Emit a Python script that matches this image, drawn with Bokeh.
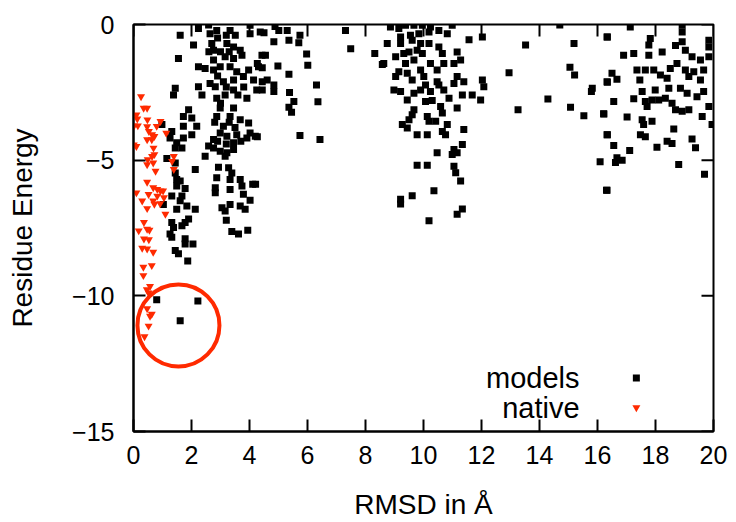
from bokeh.plotting import figure
from bokeh.models import FixedTicker, Label
from bokeh.embed import file_html
from bokeh.resources import INLINE

# ---------------- data ----------------
models_x = [
    1.61, 2.07, 2.24, 2.59, 2.64, 2.87, 3.33, 3.51, 4.02, 4.02, 4.37, 2.70, 2.76, 3.22, 3.45, 3.68,
    1.55, 2.24, 2.47, 2.76, 2.76, 3.16, 3.45, 3.74, 4.43, 2.99, 3.33, 3.56, 3.97, 4.31, 1.44, 1.38,
    2.24, 2.36, 2.64, 2.82, 3.10, 3.45, 3.79, 2.87, 3.16, 3.45, 3.91, 4.25, 4.14, 1.90, 1.72, 2.01,
    2.18, 1.72, 2.99, 2.87, 3.45, 3.33, 3.68, 3.97, 4.02, 3.10, 2.99, 3.22, 3.56, 1.32, 1.26, 1.49,
    1.72, 2.01, 2.76, 2.59, 3.45, 3.91, 4.20, 0.98,
    2.90, 3.00, 3.30, 2.90, 3.20, 3.00, 3.30, 3.50, 2.80, 3.70, 3.20, 2.90, 3.60, 3.80, 3.20, 2.60,
    1.44, 1.67, 1.15, 1.44, 1.44, 1.49, 1.49, 1.61, 1.78, 1.32, 1.67, 1.61, 1.03, 1.49, 1.84, 2.13,
    1.32, 1.38, 1.67, 1.78, 1.90, 1.26, 1.32, 1.78, 1.78, 2.05, 1.44, 1.55, 1.87, 0.80, 2.22, 1.61,
    2.76, 2.99, 3.22, 3.45, 3.16, 2.47, 2.13, 2.93, 3.28, 3.39, 2.87, 3.33, 3.68, 3.74, 2.82, 2.82,
    3.33, 4.11, 3.79, 4.02, 3.33, 3.05, 3.16, 3.68, 3.85, 3.20, 3.39, 3.62, 3.94,
    4.50, 4.88, 5.01, 5.30, 5.74, 4.84, 5.36, 5.70, 7.31, 7.49, 8.32, 8.58, 4.55, 5.97, 4.27, 4.44,
    4.98, 6.01, 5.36, 4.44, 4.61, 4.84, 4.44, 4.84, 6.31, 5.38, 5.53, 5.36, 5.45, 6.36, 4.27, 5.74,
    6.43, 4.21,
    8.86, 9.15, 9.38, 9.67, 9.96, 10.24, 10.53, 10.99, 10.82, 9.21, 9.55, 9.84, 10.19, 8.75, 9.21, 9.61,
    9.90, 10.19, 11.57, 12.03, 10.53, 10.65, 11.16, 11.28, 11.05, 8.63, 9.04, 9.32, 9.50, 9.78, 9.96, 9.67,
    9.38, 9.15, 9.04, 9.44, 9.61, 9.90, 10.01, 10.24, 10.47, 10.47, 10.70, 11.16, 11.05, 11.39, 12.03, 12.08,
    8.98, 9.21, 9.44, 9.67, 9.90, 10.07, 10.24, 10.53, 10.70, 10.88, 11.34, 11.68, 11.97, 10.07, 10.30, 10.59,
    10.65, 11.16, 9.67, 9.50, 9.61, 9.27, 9.44, 10.13, 10.19, 10.42, 10.82, 10.65, 10.76, 11.39, 9.78, 10.13,
    11.34, 10.47, 11.05, 10.99, 11.16, 9.78, 10.13, 11.05, 11.11, 11.28, 10.36, 9.61, 9.21, 9.21, 11.34, 11.16,
    10.19,
    14.70, 13.52, 15.19, 16.34, 12.95, 15.05, 15.21, 16.34, 15.82, 15.79, 14.29, 13.26, 15.07, 15.53, 16.22, 16.34,
    16.09, 16.31,
    17.13, 16.33, 17.82, 17.77, 18.92, 18.92, 19.84, 19.84, 18.69, 18.92, 19.03, 19.26, 19.55, 19.84, 16.90, 17.25,
    17.77, 18.23, 18.74, 16.50, 16.33, 16.67, 17.36, 17.65, 17.94, 18.17, 18.40, 18.51, 19.03, 19.32, 19.66, 19.55,
    19.15, 17.46, 17.54, 17.99, 18.46, 18.86, 19.09, 19.66, 19.43, 17.25, 16.56, 17.65, 17.88, 18.11, 18.34, 18.57,
    17.71, 18.69, 18.92, 19.15, 19.84, 19.61, 19.95, 16.21, 17.02, 17.54, 17.59, 17.88, 18.63, 16.33, 17.48, 17.65,
    18.40, 18.57, 19.26, 16.56, 17.11, 18.05, 19.38, 16.67, 16.85, 16.62, 18.80, 19.69, 16.33,
]
models_y = [
    -0.40, -0.76, -0.15, -0.02, -0.34, -0.22, -0.22, -0.40, -0.03, -0.34, -0.28, -0.70, -0.95, -0.70, -0.83, -0.95,
    -1.25, -1.56, -1.62, -1.31, -1.68, -1.19, -1.25, -1.13, -1.13, -1.56, -1.56, -1.74, -1.68, -1.56, -2.35, -2.60,
    -2.29, -2.60, -2.17, -2.29, -2.11, -2.05, -1.92, -2.72, -2.60, -2.41, -2.72, -2.41, -2.05, -3.14, -3.39, -3.45,
    -3.75, -3.75, -3.08, -3.39, -3.08, -3.39, -3.51, -3.63, -4.00, -3.75, -4.00, -4.12, -4.06, -3.94, -4.18, -4.36,
    -4.18, -4.06, -4.24, -4.48, -4.36, -4.18, -4.12, -3.69,
    -0.50, -1.00, -1.00, -1.90, -2.30, -2.90, -3.60, -3.80, -3.60, -4.30, -4.40, -4.30, -2.60, -2.30, -0.40, -1.00,
    -4.55, -4.55, -4.94, -5.10, -5.47, -5.71, -5.95, -5.77, -6.04, -6.32, -6.32, -6.50, -6.63, -6.81, -6.69, -6.81,
    -7.30, -7.48, -7.42, -7.30, -7.17, -7.72, -7.84, -7.90, -8.09, -8.09, -8.33, -8.45, -8.72, -10.14, -10.19, -10.92,
    -4.55, -4.67, -4.73, -4.61, -4.86, -4.86, -5.34, -5.26, -5.28, -5.47, -5.65, -5.71, -5.71, -5.95, -6.02, -6.20,
    -6.08, -5.89, -6.26, -6.48, -6.63, -6.75, -6.87, -6.69, -6.81, -7.21, -7.63, -7.72, -7.58,
    -0.30, -0.07, -0.22, -0.22, -0.40, -0.64, -0.58, -0.67, -0.22, -0.89, -1.07, -1.47, -1.13, -1.09, -1.44, -1.59,
    -1.53, -1.50, -1.83, -2.11, -2.05, -2.23, -2.41, -2.47, -2.23, -2.51, -2.84, -3.05, -3.23, -2.85, -4.14, -4.09,
    -4.24, -5.89,
    -0.09, -0.15, -0.03, -0.03, -0.03, -0.09, -0.22, -0.03, -0.34, -0.46, -0.40, -0.34, -0.28, -0.70, -0.70, -0.58,
    -0.70, -0.70, -0.56, -0.46, -0.83, -1.07, -1.01, -1.31, -1.44, -1.44, -1.19, -1.07, -1.01, -0.95, -1.07, -1.31,
    -1.44, -1.74, -1.92, -1.80, -2.05, -1.68, -1.92, -1.44, -1.68, -2.11, -1.44, -1.92, -2.17, -2.11, -2.05, -2.29,
    -2.41, -2.47, -2.78, -2.53, -2.41, -2.23, -2.47, -2.23, -2.41, -2.72, -2.60, -2.60, -2.78, -2.84, -2.80, -3.02,
    -3.26, -3.08, -3.14, -3.51, -3.33, -3.69, -3.81, -3.39, -3.57, -3.57, -3.69, -3.94, -4.06, -3.87, -4.06, -4.06,
    -4.42, -4.73, -4.61, -4.79, -4.73, -5.19, -5.19, -5.22, -5.46, -5.77, -6.13, -6.31, -6.44, -6.62, -6.80, -6.99,
    -7.23,
    -0.02, -0.76, -0.70, -0.46, -1.78, -1.58, -1.86, -2.13, -2.35, -2.47, -2.75, -3.14, -3.05, -3.36, -3.30, -4.06,
    -5.06, -6.11,
    -0.09, -0.46, -0.52, -0.76, -0.03, -0.28, -0.58, -0.83, -0.77, -0.64, -0.95, -1.19, -1.31, -1.19, -1.13, -1.07,
    -1.13, -1.01, -1.44, -1.80, -2.11, -2.02, -1.68, -1.68, -1.68, -1.86, -1.98, -1.62, -1.68, -1.74, -1.68, -2.05,
    -1.92, -2.05, -2.47, -2.41, -2.35, -2.35, -2.53, -2.47, -2.66, -2.74, -2.84, -2.84, -2.78, -2.78, -2.72, -2.90,
    -3.02, -3.14, -3.20, -3.14, -3.02, -3.39, -3.69, -3.29, -3.41, -3.51, -3.69, -3.57, -3.85, -4.06, -4.06, -4.14,
    -4.30, -4.39, -4.22, -4.46, -4.64, -4.52, -4.54, -4.91, -5.00, -5.09, -5.16, -5.52, -6.11,
]

native_x = [
    0.26, 0.35, 0.47, 0.10, 0.13, 0.02, 0.15, 0.47, 0.53, 0.64, 0.47, 0.72, 0.93, 1.13, 0.01, 0.10,
    0.49, 0.64, 0.72, 0.68, 0.47, 0.76, 1.39, 1.33, 1.39, 0.47, 0.68, 0.82, 0.93, 1.02, 0.82, 1.05,
    0.68, 0.10, 0.30, 0.47, 0.72, 1.10, 0.36, 0.47, 0.18, 0.36, 0.53, 0.30, 0.47, 0.68,
    0.48, 0.80, 0.63, 0.69, 0.52, 0.92, 0.55,
    0.34, 0.63, 0.34, 0.57, 0.46, 0.52, 0.63, 0.57, 0.52, 0.47, 0.38,
]
native_y = [
    -2.66, -3.08, -3.08, -3.33, -3.48, -3.73, -3.73, -3.76, -3.94, -4.06, -4.24, -4.12, -3.57, -4.00, -4.43, -4.49,
    -4.98, -4.86, -4.79, -5.10, -5.16, -5.40, -4.86, -5.04, -5.34, -5.81, -6.01, -6.07, -6.13, -6.13, -6.32, -6.38,
    -6.50, -6.20, -6.50, -6.78, -6.62, -6.99, -7.29, -7.54, -7.60, -7.90, -7.93, -8.24, -8.27, -8.39,
    -3.51, -3.75, -4.24, -4.55, -6.26, -6.60, -7.58,
    -8.94, -8.88, -9.25, -9.65, -9.77, -9.89, -10.67, -10.75, -11.11, -10.47, -11.50,
]

highlight_x = [1.55]
highlight_y = [-11.09]

x_ticks = [0, 2, 4, 6, 8, 10, 12, 14, 16, 18, 20]
y_ticks = [0, -5, -10, -15]
y_tick_labels = {0: "0", -5: "\u22125", -10: "\u221210", -15: "\u221215"}

legend_names = ["models", "native"]
legend_text_x = 15.38
legend_mark_x = 17.34
legend_y = [-13.03, -14.12]

x_title = "RMSD in Å"
y_title = "Residue Energy"

X_MIN, X_MAX = 0, 20
Y_MIN, Y_MAX = -15, 0

RED = "#ff2a00"
FONT = "Liberation Sans"

# ---------------- figure ----------------
W, H = 730, 522
FRAME_W, FRAME_H = 580, 410
LEFT, TOP = 133, 24
p = figure(width=W, height=H, x_range=(X_MIN, X_MAX), y_range=(Y_MIN, Y_MAX),
           output_backend="svg", toolbar_location=None, title_location=None,
           min_border_left=LEFT, min_border_right=W - LEFT - FRAME_W,
           min_border_top=TOP, min_border_bottom=H - TOP - FRAME_H)
p.grid.visible = False
p.outline_line_color = "black"
p.outline_line_width = 2
p.background_fill_color = "white"
p.border_fill_color = "white"

for ax in (p.xaxis[0], p.yaxis[0]):
    ax.axis_line_width = 2
    ax.major_tick_line_width = 2
    ax.major_tick_in = 12
    ax.major_tick_out = 0
    ax.minor_tick_line_color = None
    ax.major_label_text_font = FONT
    ax.major_label_text_font_size = "25px"
    ax.major_label_text_color = "black"
    ax.axis_label_text_font = FONT
    ax.axis_label_text_font_size = "28px"
    ax.axis_label_text_font_style = "normal"
    ax.axis_label_text_color = "black"

p.xaxis[0].ticker = FixedTicker(ticks=x_ticks)
p.yaxis[0].ticker = FixedTicker(ticks=y_ticks)
p.yaxis[0].major_label_overrides = y_tick_labels
p.xaxis[0].axis_label = x_title
p.yaxis[0].axis_label = y_title
p.xaxis[0].major_label_standoff = 14
p.yaxis[0].major_label_standoff = 19
p.xaxis[0].axis_label_standoff = 22
p.yaxis[0].axis_label_standoff = 31

# mirror ticks on the top and right borders (gnuplot style), 12 px long inward
px_x = (X_MAX - X_MIN) / FRAME_W
px_y = (Y_MAX - Y_MIN) / FRAME_H
p.segment(x0=x_ticks, y0=[Y_MAX] * len(x_ticks), x1=x_ticks,
          y1=[Y_MAX - 12 * px_y] * len(x_ticks), line_color="black", line_width=2)
p.segment(x0=[X_MAX] * len(y_ticks), y0=y_ticks, x1=[X_MAX - 12 * px_x] * len(y_ticks),
          y1=y_ticks, line_color="black", line_width=2)

# ---------------- glyphs ----------------
p.scatter(models_x, models_y, marker="square", size=7, color="black", line_width=0)
p.scatter(native_x, native_y, marker="inverted_triangle", size=8, color=RED, line_width=0)
p.scatter(highlight_x, highlight_y, marker="circle", size=82, fill_color=None,
          line_color=RED, line_width=4)

# legend (gnuplot style: text left, symbol right)
for name, ly in zip(legend_names, legend_y):
    p.add_layout(Label(x=legend_text_x, y=ly, text=name, text_align="right",
                       text_baseline="middle", text_font=FONT, text_font_size="29px",
                       text_color="black"))
p.scatter([legend_mark_x], [legend_y[0]], marker="square", size=7, color="black", line_width=0)
p.scatter([legend_mark_x], [legend_y[1]], marker="inverted_triangle", size=8, color=RED, line_width=0)

open("out.html", "w").write(file_html(p, INLINE))
